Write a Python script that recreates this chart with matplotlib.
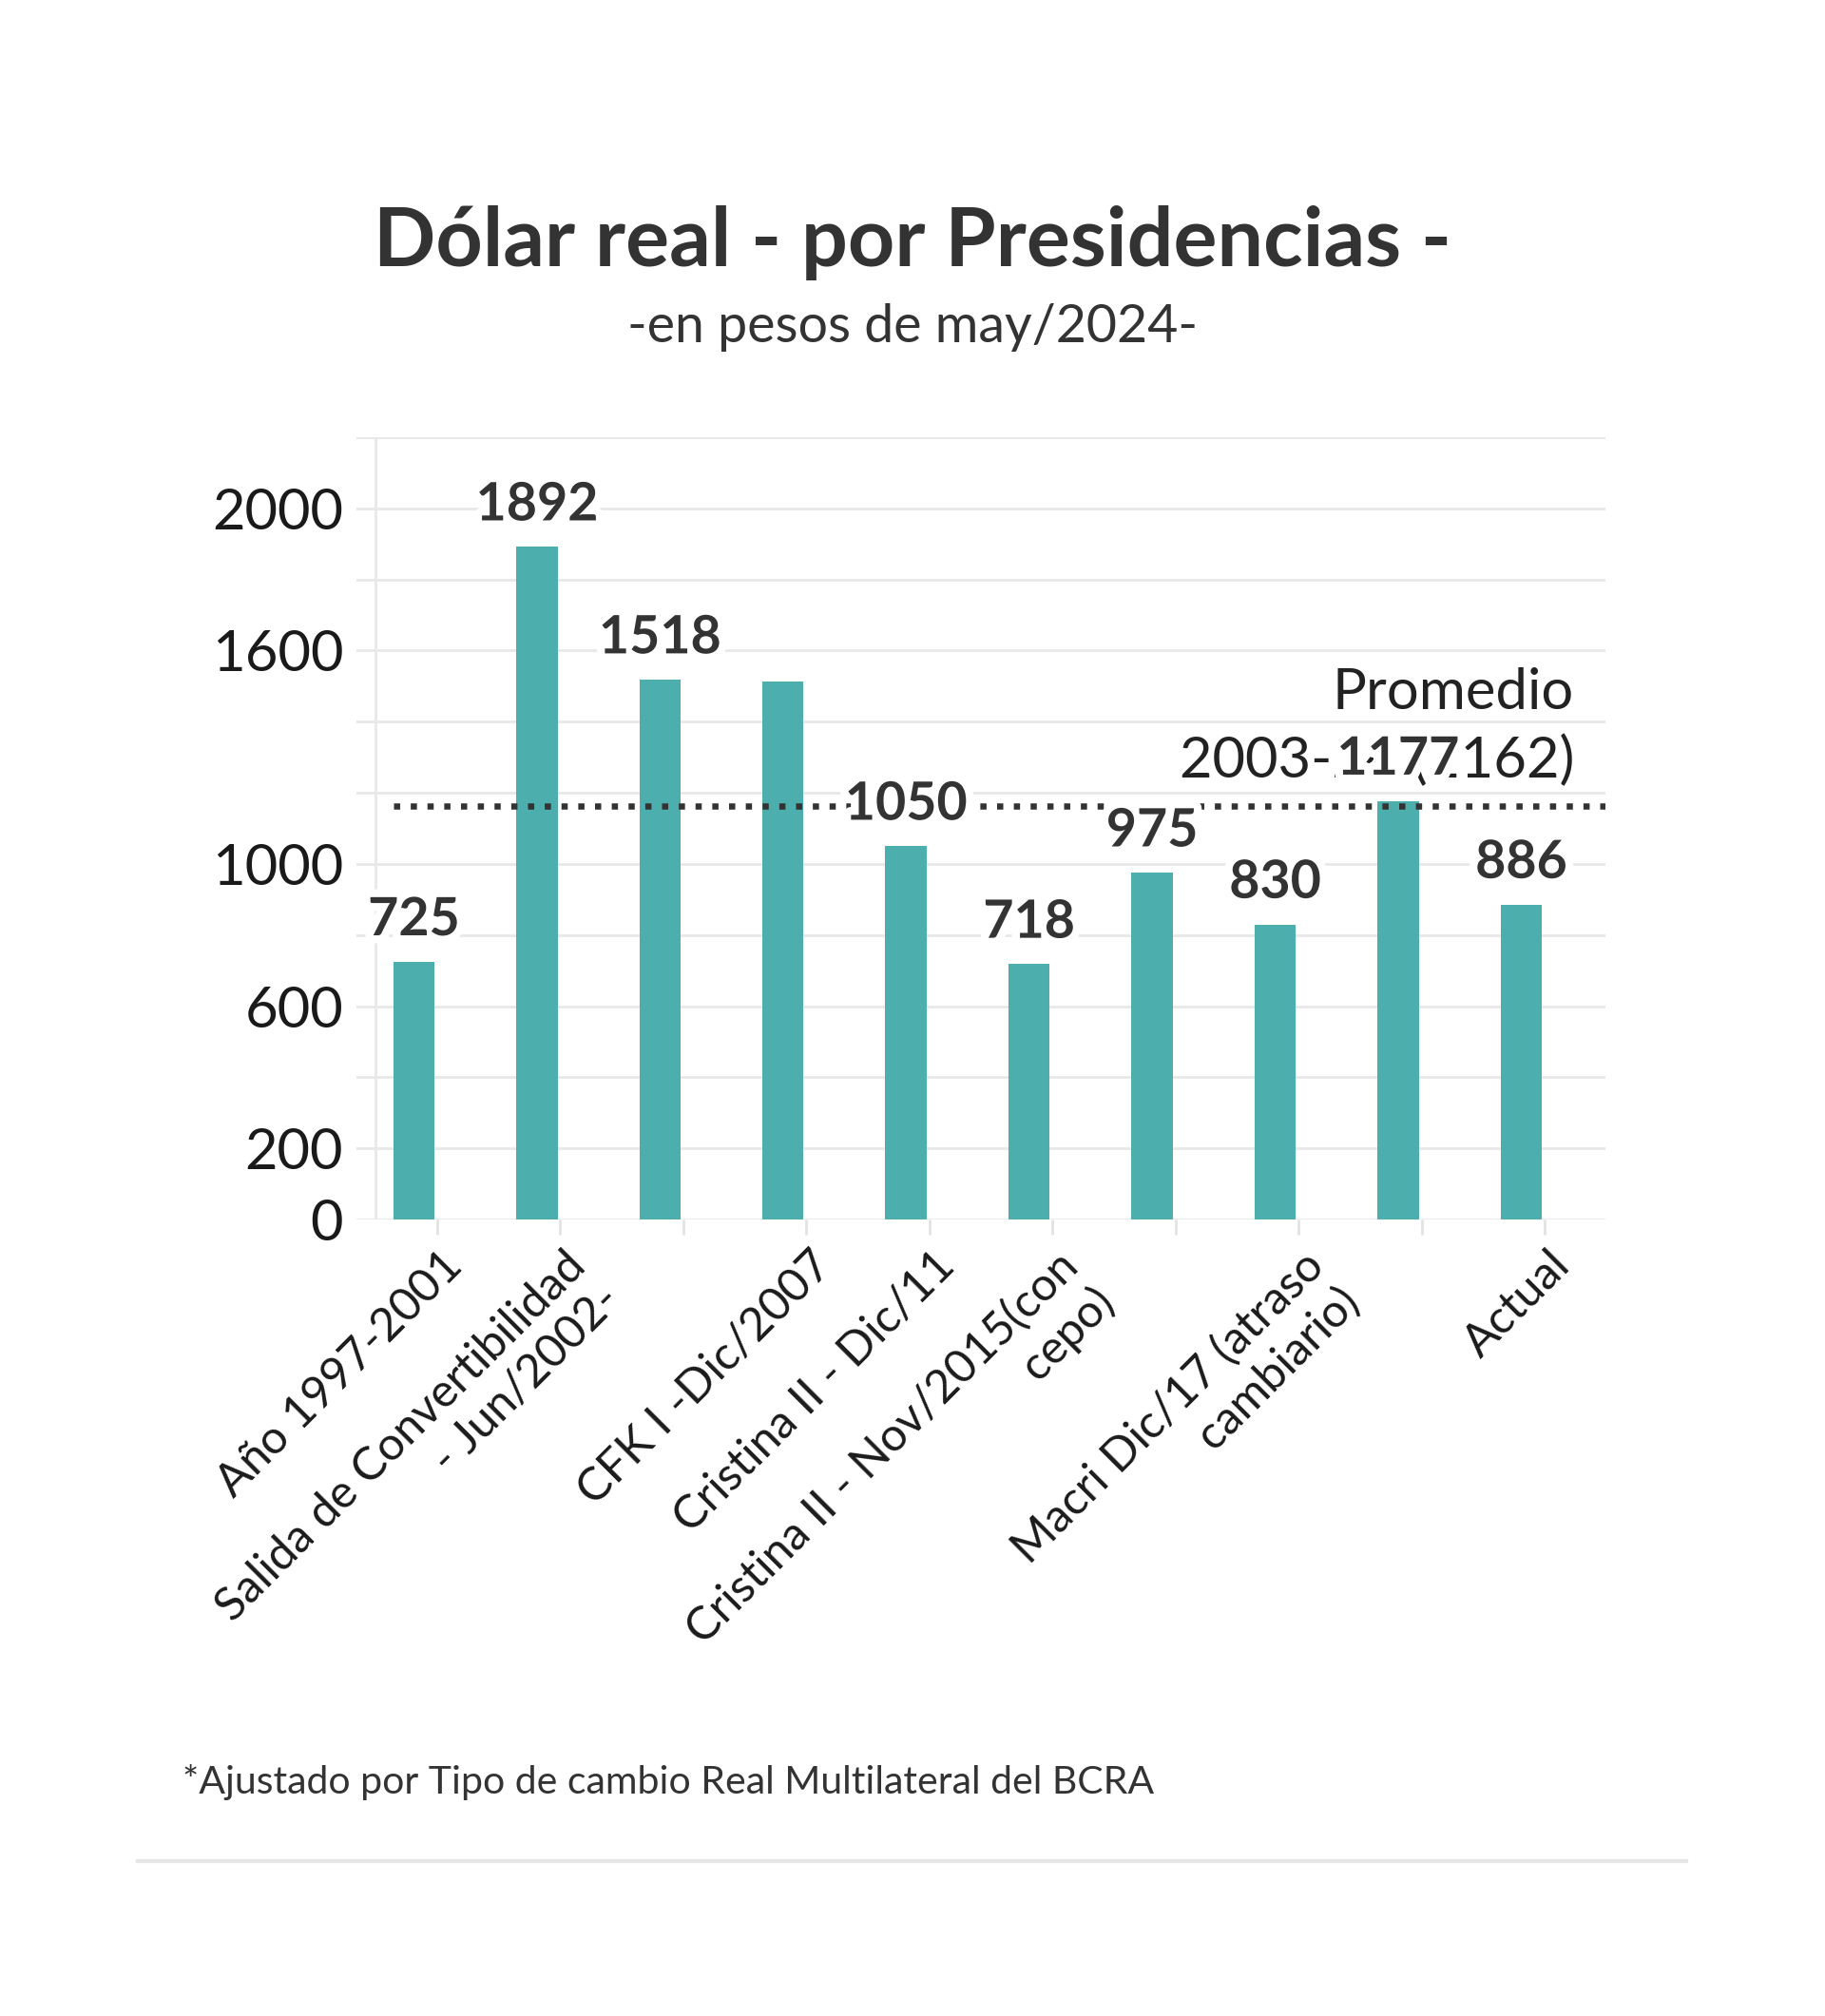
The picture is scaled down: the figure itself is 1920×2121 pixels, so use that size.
import numpy as np
import matplotlib
matplotlib.use("Agg")
import matplotlib.pyplot as plt
import matplotlib.patheffects as pe
from matplotlib.lines import Line2D
from matplotlib.transforms import ScaledTranslation

# datos
categorias = ["Año 1997-2001", "Salida de Convertibilidad\n- Jun/2002-", "", "CFK I -Dic/2007",
              "Cristina II - Dic/11", "Cristina II - Nov/2015(con\ncepo)", "",
              "Macri Dic/17 (atraso\ncambiario)", "", "Actual"]
valores = [725, 1892, 1518, 1513, 1050, 718, 975, 830, 1177, 886]
mostrar_valor = [True, True, True, False, True, True, True, True, True, True]
promedio = 1162
y_ticks = [0, 200, 600, 1000, 1600, 2000]
y_grid = [0, 200, 400, 600, 800, 1000, 1200, 1400, 1600, 1800, 2000, 2200]

TEAL = "#4caead"; TXT = "#333333"; GRID = "#e8e8e8"
plt.rcParams["font.family"] = ["Lato", "DejaVu Sans"]

fig = plt.figure(figsize=(19.2, 21.21), dpi=100)
ax = fig.add_axes([0.1953, 0.3951, 0.6844, 0.388])
x = np.arange(len(valores)); off, w = -0.19, 0.335
xmin, xmax = -0.657, 9.495

ax.bar(x + off, valores, width=w, color=TEAL, zorder=2)
ax.set_xlim(xmin, xmax); ax.set_ylim(0, 2200)
for g in y_grid:
    ax.axhline(g, color=GRID, lw=2, zorder=0)
ax.axvline(-0.5, color=GRID, lw=2, zorder=0)
for s in ax.spines.values():
    s.set_visible(False)

ax.set_yticks(y_ticks, [str(t) for t in y_ticks])
ax.tick_params(axis="y", length=0, labelsize=43, pad=10, labelcolor="#1a1a1a")
ax.set_xticks(x, categorias)
ax.tick_params(axis="x", length=11.5, width=2, color="#e2e2e2", labelsize=35, pad=7,
               labelcolor="#1a1a1a")
shift = ScaledTranslation(2.5 / 72, 0, fig.dpi_scale_trans)
for lab in ax.get_xticklabels():
    lab.set_rotation(45); lab.set_ha("right"); lab.set_rotation_mode("anchor")
    lab.set_multialignment("right")
    lab.set_transform(lab.get_transform() + shift)

# línea de promedio
ax.hlines(promedio, x[0] + off - w / 2, xmax, colors=TXT, linestyles=(0, (1, 1.7)), lw=4.7, zorder=3)
ax.annotate(f"2003-24 ({promedio})", (9.24, promedio), xytext=(0, 22), textcoords="offset points",
            ha="right", va="baseline", fontsize=43, color="#222222", zorder=4)
ax.annotate("Promedio", (9.24, promedio), xytext=(0, 73.5), textcoords="offset points",
            ha="right", va="baseline", fontsize=43, color="#222222", zorder=4)

for xi, v, m in zip(x, valores, mostrar_valor):
    if m:
        ax.annotate(str(v), (xi + off, v), xytext=(0, 20), textcoords="offset points",
                    ha="center", va="baseline", fontsize=40, fontweight="bold", color=TXT, zorder=5,
                    path_effects=[pe.withStroke(linewidth=12, foreground="white")])

fig.text(0.5, 1 - 280 / 2121, "Dólar real - por Presidencias -", ha="center", va="baseline",
         fontsize=62, fontweight="bold", color=TXT)
fig.text(0.5, 1 - 360 / 2121, "-en pesos de may/2024-", ha="center", va="baseline",
         fontsize=40, color=TXT)
fig.text(192 / 1920, 1 - 1887 / 2121, "*Ajustado por Tipo de cambio Real Multilateral del BCRA",
         ha="left", va="baseline", fontsize=29.5, color=TXT)
fig.add_artist(Line2D([145 / 1920, 1774 / 1920], [1 - 1958 / 2121] * 2, color="#e6e6e6", lw=3))

fig.savefig("out.png", dpi=100, facecolor="white")
